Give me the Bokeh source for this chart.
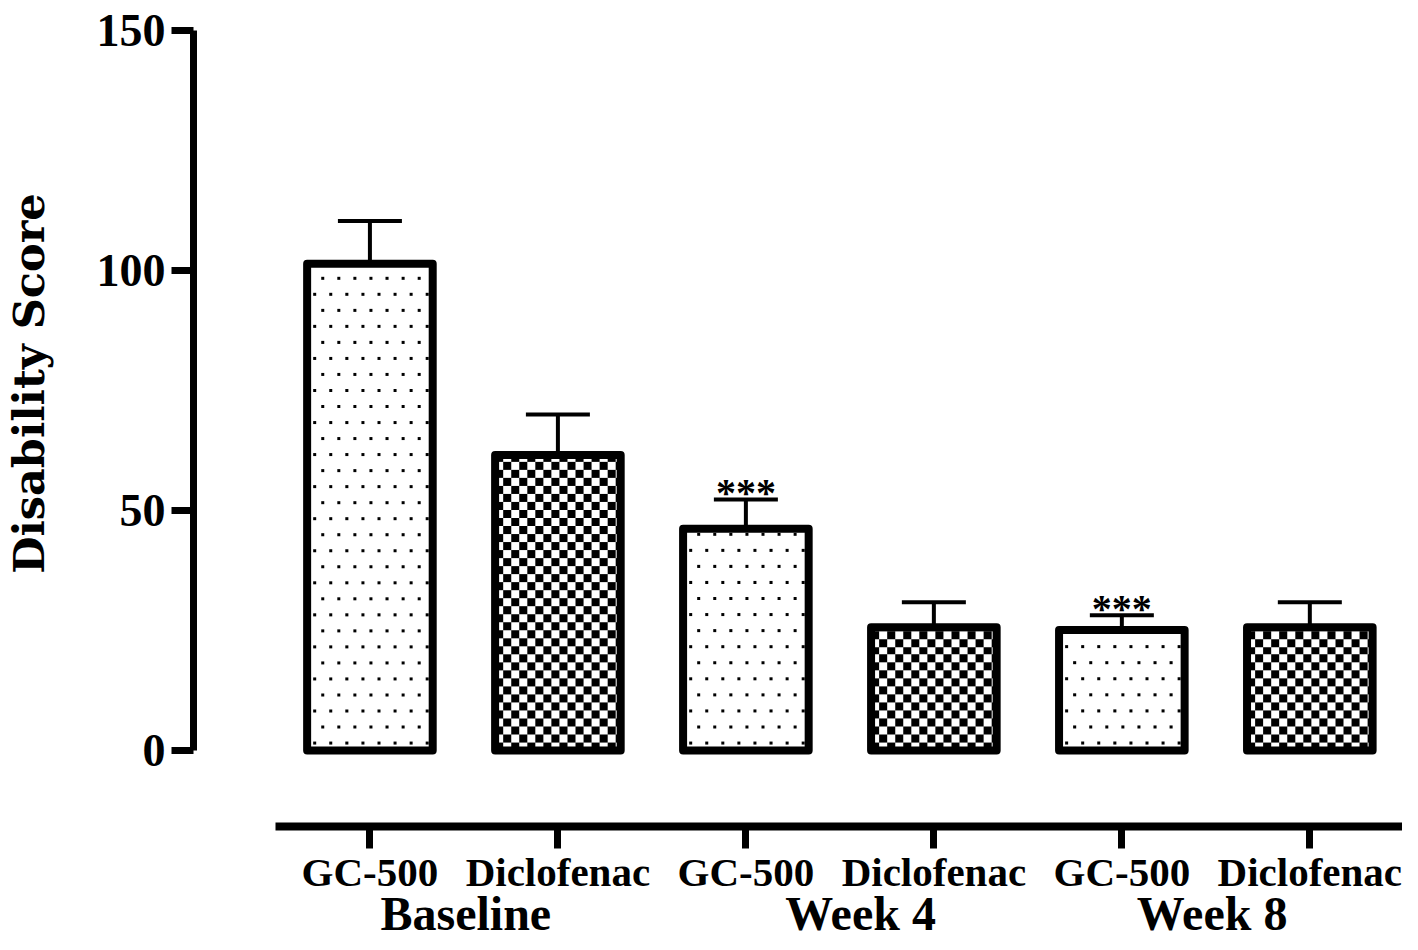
import numpy as np
from bokeh.plotting import figure
from bokeh.models import (ColumnDataSource, Range1d, FixedTicker, LinearAxis,
                          Whisker, TeeHead)
from bokeh.core.properties import value
from bokeh.embed import file_html
from bokeh.resources import INLINE

# ---------------- data ----------------
treatments = ["GC-500", "Diclofenac", "GC-500", "Diclofenac", "GC-500", "Diclofenac"]
timepoints = ["Baseline", "Week 4", "Week 8"]
timepoint_pos = [1.51, 3.61, 5.48]
means = [101.4, 61.6, 46.2, 25.7, 25.1, 25.7]
sems = [8.9, 8.4, 6.1, 5.2, 3.1, 5.2]
signif = ["", "", "***", "", "***", ""]
y_ticks = [0, 50, 100, 150]

# ---------------- layout ----------------
xs = list(range(1, len(treatments) + 1))
upper = [m + s for m, s in zip(means, sems)]

SERIF = "Liberation Serif"
W, H = 1402, 942
LEFT = 189
X_START, X_END = 0.0615, 6.493
Y0_PX, Y150_PX, FRAME_BOTTOM_PX = 751, 30, 827
px_per_unit = (Y0_PX - Y150_PX) / 150.0
px_per_x = (W - LEFT) / (X_END - X_START)
y_start = -(FRAME_BOTTOM_PX - Y0_PX) / px_per_unit
BAR_W = 0.668

p = figure(width=W, height=H, output_backend="svg", toolbar_location=None,
           x_range=Range1d(X_START, X_END), y_range=Range1d(y_start, 150),
           min_border_left=LEFT, min_border_right=0, min_border_top=Y150_PX,
           min_border_bottom=H - FRAME_BOTTOM_PX)
p.grid.visible = False
p.outline_line_color = None
p.background_fill_color = "white"
p.border_fill_color = "white"

BLACK = np.uint32(0xFF000000)
WHITE = np.uint32(0xFFFFFFFF)


def fill_pattern(kind, w_px, h_px):
    yy, xx = np.mgrid[0:h_px, 0:w_px]
    if kind == "GC-500":      # staggered dots
        row = yy % 32
        col = xx % 16
        col2 = (xx + 8) % 16
        dot = ((row >= 6) & (row < 9) & (col >= 6) & (col < 9)) | \
              ((row >= 22) & (row < 25) & (col2 >= 6) & (col2 < 9))
    else:                     # checkerboard
        dot = ((xx // 8 + yy // 8) % 2) == 0
    return np.where(dot, BLACK, WHITE).astype(np.uint32)


# error bars (drawn under the bars)
err_src = ColumnDataSource(dict(x=xs, lower=means, upper=upper))
p.add_layout(Whisker(source=err_src, base="x", lower="lower", upper="upper",
                     line_width=4, line_color="black", level="underlay",
                     upper_head=TeeHead(size=64, line_width=4, line_color="black"),
                     lower_head=None))

# patterned fills
for x, m, t in zip(xs, means, treatments):
    w_px = int(round(BAR_W * px_per_x))
    h_px = int(round(m * px_per_unit))
    p.image_rgba(image=[fill_pattern(t, w_px, h_px)], x=x - BAR_W / 2, y=0,
                 dw=BAR_W, dh=m)

# bar outlines
p.vbar(x=xs, top=means, bottom=0, width=BAR_W, fill_color=None,
       line_color="black", line_width=8, line_join="round")

# significance stars
p.text(x=xs, y=upper, text=signif, text_font=value(SERIF), text_font_style="bold",
       text_font_size="40px", text_align="center", text_baseline="middle",
       y_offset=-7, text_color="black")

# y axis
ya = p.yaxis[0]
ya.ticker = FixedTicker(ticks=y_ticks)
ya.bounds = (0, 150)
ya.axis_line_width = 7
ya.major_tick_line_width = 7
ya.major_tick_out = 22
ya.major_tick_in = 0
ya.minor_tick_out = 0
ya.minor_tick_in = 0
ya.major_label_standoff = 6
ya.major_label_text_font = SERIF
ya.major_label_text_font_style = "bold"
ya.major_label_text_font_size = "46px"
ya.major_label_text_color = "black"
ya.axis_label = "\u00a0" * 6 + "Disability Score"
ya.axis_label_text_font = "DejaVu Serif"
ya.axis_label_text_font_style = "bold"
ya.axis_label_text_font_size = "43px"
ya.axis_label_standoff = 40
ya.axis_label_text_color = "black"

# x axis (treatment labels)
xa = p.xaxis[0]
xa.ticker = FixedTicker(ticks=xs)
xa.major_label_overrides = {x: t for x, t in zip(xs, treatments)}
xa.bounds = (0.5, X_END)
xa.axis_line_width = 8
xa.major_tick_line_width = 7
xa.major_tick_out = 22
xa.major_tick_in = 0
xa.minor_tick_out = 0
xa.minor_tick_in = 0
xa.major_label_standoff = 0
xa.major_label_text_font = SERIF
xa.major_label_text_font_style = "bold"
xa.major_label_text_font_size = "41px"
xa.major_label_text_color = "black"

# second x axis (time point labels)
ga = LinearAxis(ticker=FixedTicker(ticks=timepoint_pos),
                major_label_overrides={g: t for g, t in zip(timepoint_pos, timepoints)})
ga.axis_line_color = None
ga.major_tick_line_color = None
ga.minor_tick_line_color = None
ga.major_tick_out = 0
ga.major_tick_in = 0
ga.minor_tick_out = 0
ga.minor_tick_in = 0
ga.major_label_standoff = -11
ga.major_label_text_font = SERIF
ga.major_label_text_font_style = "bold"
ga.major_label_text_font_size = "48px"
ga.major_label_text_line_height = 0.5
ga.major_label_text_color = "black"
p.add_layout(ga, "below")

open("out.html", "w").write(file_html(p, INLINE))
